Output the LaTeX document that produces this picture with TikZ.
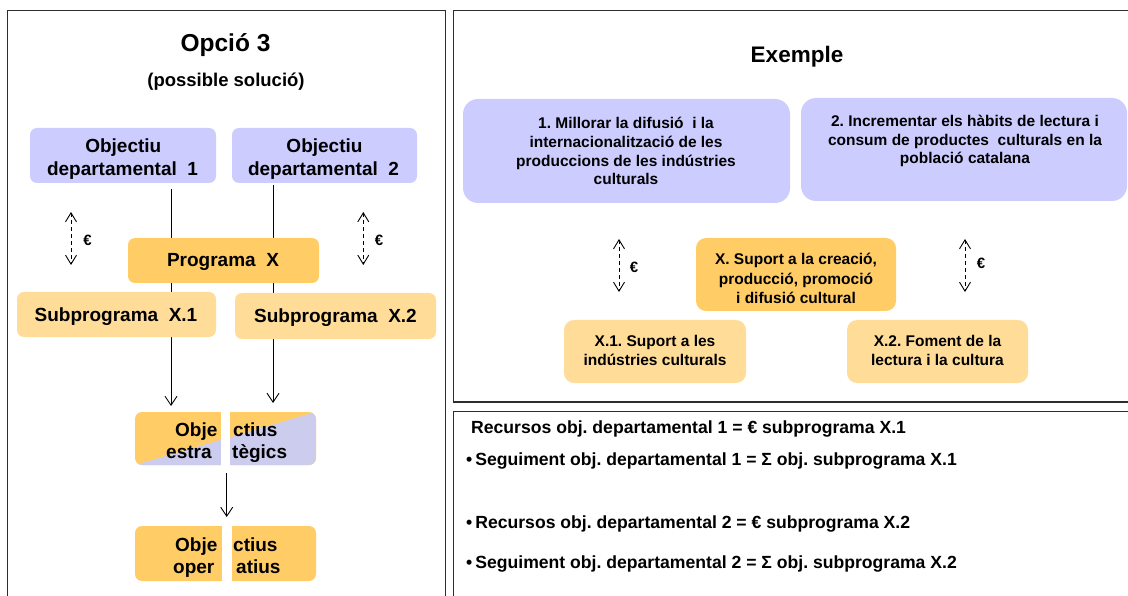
\documentclass[tikz,border=0pt]{standalone}
\usepackage{fontspec}
\setmainfont{Liberation Sans}
\usetikzlibrary{arrows.meta,backgrounds}
\frenchspacing

\definecolor{lav}{RGB}{204,204,255}
\definecolor{lavgray}{RGB}{204,204,238}
\definecolor{gold}{RGB}{255,204,102}
\definecolor{pale}{RGB}{255,221,153}
\definecolor{framecol}{RGB}{45,45,45}

\tikzset{
  blk/.style={rectangle, inner sep=0pt, outer sep=0pt, draw=none},
  panel/.style={draw=framecol, line width=1.4pt},
  tx/.style={inner sep=0pt, anchor=base, font=\bfseries\fontsize{19}{22}\selectfont},
  txs/.style={inner sep=0pt, anchor=base, font=\bfseries\fontsize{15.5}{18}\selectfont},
  txb/.style={inner sep=0pt, anchor=base west, font=\bfseries\fontsize{17.6}{20}\selectfont},
  eur/.style={inner sep=0pt, anchor=base, font=\bfseries\fontsize{15}{18}\selectfont},
  flow/.style={draw=black, line width=0.9pt, -{Straight Barb[length=9pt,width=12pt,line width=0.9pt]}},
  money/.style={draw=black, line width=0.9pt, dash pattern=on 4pt off 3pt,
    {Straight Barb[length=9pt,width=11pt,line width=0.9pt]}-{Straight Barb[length=9pt,width=11pt,line width=0.9pt]}},
}

\begin{document}
\begin{tikzpicture}[x=1pt,y=-1pt]
\useasboundingbox (0,0) rectangle (1128,596);

% three framed panels
\draw[panel] (7.5,10.5) rectangle (445.5,610);
\draw[panel] (453.5,10.5) rectangle (1140,402);
\draw[panel] (453.5,411.5) rectangle (1140,610);

% ---------- left panel: Opció 3 ----------
\node[inner sep=0pt, anchor=base, font=\bfseries\fontsize{24.5}{28}\selectfont] (title) at (225.5,52) {Opció 3};
\node[inner sep=0pt, anchor=base, font=\bfseries\fontsize{18.5}{22}\selectfont] (subtitle) at (226,87) {(possible solució)};

\node[blk, fill=lav, rounded corners=7pt, minimum width=186pt, minimum height=55pt] (od1) at (123,155.5) {};
\node[blk, fill=lav, rounded corners=7pt, minimum width=185pt, minimum height=55pt] (od2) at (324.5,155.5) {};
\node[tx] (od1a) at (123.3,153) {Objectiu};
\node[tx] (od1b) at (122.5,176) {departamental~~1};
\node[tx] (od2a) at (324.5,153) {Objectiu};
\node[tx] (od2b) at (323.5,176) {departamental~~2};

\node[blk, fill=gold, rounded corners=7pt, minimum width=191pt, minimum height=45pt] (px) at (223.5,260.5) {};
\node[tx] (pxt) at (223,267) {Programa~~X};

\node[blk, fill=pale, rounded corners=7pt, minimum width=199pt, minimum height=45pt] (sx1) at (116.5,314.5) {};
\node[blk, fill=pale, rounded corners=7pt, minimum width=201pt, minimum height=46pt] (sx2) at (335.5,316) {};
\node[tx] (sx1t) at (116,322) {Subprograma~~X.1};
\node[tx] (sx2t) at (335.5,322.3) {Subprograma~~X.2};

% strategic objectives: orange / lavender split along the diagonal
\node[blk, fill=gold, rounded corners=7pt, minimum width=181pt, minimum height=53pt,
  path picture={\fill[lavgray] (path picture bounding box.south west) -- (path picture bounding box.south east)
    -- (path picture bounding box.north east) -- cycle;}] (oe) at (225.5,438.5) {};
\node[blk, fill=white, minimum width=9pt, minimum height=56pt] (oegap) at (225.5,438.5) {};
\node[tx, anchor=base west] (oe1) at (175,436) {Obje};
\node[tx, anchor=base west] (oe2) at (233,436) {ctius};
\node[tx, anchor=base west] (oe3) at (166,458) {estra};
\node[tx, anchor=base west] (oe4) at (232,458) {tègics};

% operational objectives
\node[blk, fill=gold, rounded corners=7pt, minimum width=181pt, minimum height=55pt] (oo) at (225.5,553.5) {};
\node[blk, fill=white, minimum width=10pt, minimum height=58pt] (oogap) at (226.7,553.5) {};
\node[tx, anchor=base west] (oo1) at (175,551) {Obje};
\node[tx, anchor=base west] (oo2) at (233,551) {ctius};
\node[tx, anchor=base west] (oo3) at (173,573) {oper};
\node[tx, anchor=base west] (oo4) at (236,573) {atius};

% connectors of the left panel; the two long ones run behind the programme boxes
\coordinate (c1) at (171,0);
\coordinate (c2) at (273,0);
\coordinate (c3) at (226.7,0);
\begin{pgfonlayer}{background}
\fill[white] (0,0) rectangle (1128,596);
\draw[flow] ([yshift=-6pt]c1 |- od1.south) -- ([yshift=6pt]c1 |- oe.north);
\draw[flow] ([yshift=-2pt]c2 |- od2.south) -- ([yshift=9pt]c2 |- oe.north);
\end{pgfonlayer}
\draw[flow] ([yshift=-8pt]c3 |- oe.south) -- ([yshift=9pt]c3 |- oo.north);

% budget links of the left panel
\coordinate (m1a) at (71,212);
\coordinate (m1b) at (71,265);
\coordinate (m2a) at (363.3,212);
\coordinate (m2b) at (363.3,265);
\draw[money] (m1a) -- (m1b);
\draw[money] (m2a) -- (m2b);
\node[eur] (e1) at (87.5,246) {€};
\node[eur] (e2) at (379,245.5) {€};

% ---------- right panel: Exemple ----------
\node[inner sep=0pt, anchor=base, font=\bfseries\fontsize{22.5}{26}\selectfont] (ex) at (797,63) {Exemple};

\node[blk, fill=lav, rounded corners=15pt, minimum width=327pt, minimum height=104pt] (b1) at (626.5,151) {};
\node[blk, fill=lav, rounded corners=15pt, minimum width=326pt, minimum height=103pt] (b2) at (964,149.5) {};
\node[txs] (b1a) at (626,128.5) {1. Millorar la difusió~~i la};
\node[txs] (b1b) at (626,147.3) {internacionalització de les};
\node[txs] (b1c) at (626,166.1) {produccions de les indústries};
\node[txs] (b1d) at (626,184.9) {culturals};
\node[txs] (b2a) at (965,126.7) {2. Incrementar els hàbits de lectura i};
\node[txs] (b2b) at (965,145.2) {consum de productes~~culturals en la};
\node[txs] (b2c) at (965,163.7) {població catalana};

\node[blk, fill=gold, rounded corners=10pt, minimum width=200pt, minimum height=73pt] (bx) at (796,274.5) {};
\node[txs] (bxa) at (796,265) {X. Suport a la creació,};
\node[txs] (bxb) at (796,284.2) {producció, promoció};
\node[txs] (bxc) at (796,303.4) {i difusió cultural};

\node[blk, fill=pale, rounded corners=10pt, minimum width=182pt, minimum height=63pt] (bx1) at (655,351.5) {};
\node[blk, fill=pale, rounded corners=10pt, minimum width=181pt, minimum height=63pt] (bx2) at (937.5,351.5) {};
\node[txs] (bx1a) at (655,346.7) {X.1. Suport a les};
\node[txs] (bx1b) at (655,365.7) {indústries culturals};
\node[txs] (bx2a) at (937.5,346.7) {X.2. Foment de la};
\node[txs] (bx2b) at (937.5,365.7) {lectura i la cultura};

% budget links of the right panel
\coordinate (m3a) at (619,239);
\coordinate (m3b) at (619,292);
\coordinate (m4a) at (965,239);
\coordinate (m4b) at (965,292);
\draw[money] (m3a) -- (m3b);
\draw[money] (m4a) -- (m4b);
\node[eur] (e3) at (634,272.5) {€};
\node[eur] (e4) at (981,268.5) {€};

% ---------- bottom right panel ----------
\node[txb] (r1) at (471,433) {Recursos obj. departamental 1 = € subprograma X.1};
\node[txb] (r2) at (466,465) {•\hspace{3pt}Seguiment obj. departamental 1 = Σ obj. subprograma X.1};
\node[txb] (r3) at (466,528) {•\hspace{3pt}Recursos obj. departamental 2 = € subprograma X.2};
\node[txb] (r4) at (466,568) {•\hspace{3pt}Seguiment obj. departamental 2 = Σ obj. subprograma X.2};
\end{tikzpicture}
\end{document}
